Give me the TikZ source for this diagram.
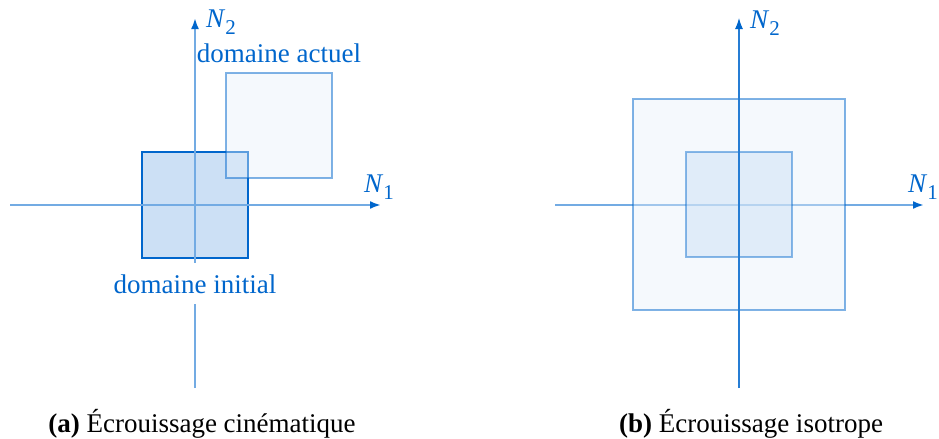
\documentclass[tikz,border=0pt]{standalone}
\usepackage{fontspec}
\setmainfont{Liberation Serif}
\usetikzlibrary{arrows.meta}
\definecolor{mblue}{RGB}{0,102,204}
\tikzset{
  lbl/.style={text=mblue, font=\fontsize{13.5}{16}\selectfont, inner sep=0pt, anchor=base},
  captext/.style={text=black, font=\fontsize{13.5}{16}\selectfont, inner sep=0pt, anchor=base},
  axis/.style={draw=mblue!55, line width=1.4pt, -{Latex[length=5.5pt,width=4pt,color=mblue]}},
  thinaxis/.style={draw=mblue!85, line width=0.55pt, -{Latex[length=5.5pt,width=4pt,color=mblue]}},
  initdom/.style={draw=mblue, line width=1.4pt, fill=mblue!20},
  curdom/.style={draw=mblue, draw opacity=0.5, line width=1.4pt, fill=mblue!10, fill opacity=0.4},
  innerdom/.style={draw=mblue, draw opacity=0.45, line width=1.4pt, fill=mblue!20, fill opacity=0.5},
}
\newcommand{\Nsub}[1]{\textit{N}\raisebox{-0.28em}{\fontsize{10.5}{12}\selectfont #1}}
\begin{document}
\begin{tikzpicture}[x=0.5pt,y=-0.5pt]
\useasboundingbox (0,0) rectangle (939,439);
% ---- panel (a)
\draw[initdom] (142,152) rectangle (248,258);
\coordinate (aL) at (10,205);
\coordinate (aR) at (381,205);
\coordinate (aB) at (195,388);
\coordinate (aT) at (195,18);
\draw[axis] (aL) -- (aR);
\draw[axis] (aB) -- (aT);
\draw[curdom] (226,73) rectangle (332,178);
\node[lbl, fill=white, inner xsep=2pt, inner ysep=5.5pt] (dinit) at (195,293) {domaine initial};
\node[lbl] (dact) at (279,62) {domaine actuel};
\node[lbl] (aN1) at (379,192) {\Nsub{1}};
\node[lbl] (aN2) at (221,27) {\Nsub{2}};
\node[captext] (capa) at (202,432) {\textbf{(a)} Écrouissage cinématique};
% ---- panel (b)
\coordinate (bL) at (555,205);
\coordinate (bR) at (924,205);
\coordinate (bB) at (739,388);
\coordinate (bT) at (739,18);
\draw[axis] (bL) -- (bR);
\draw[curdom] (633,99) rectangle (845,310);
\draw[innerdom] (686,152) rectangle (792,257);
\draw[thinaxis] (bB) -- (bT);
\node[lbl] (bN1) at (923,192) {\Nsub{1}};
\node[lbl] (bN2) at (765,28) {\Nsub{2}};
\node[captext] (capb) at (751,432) {\textbf{(b)} Écrouissage isotrope};
\end{tikzpicture}
\end{document}
